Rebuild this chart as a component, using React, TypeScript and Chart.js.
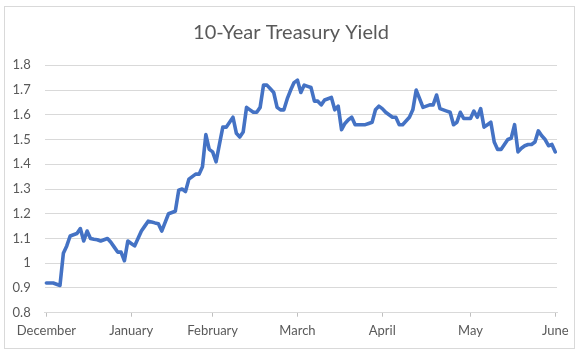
import { useEffect, useRef } from "react";
import { Chart, registerables } from "chart.js";

Chart.register(...registerables);

const chartTitle = "10-Year Treasury Yield";
const monthLabels = ["December", "January", "February", "March", "April", "May", "June"];
const monthPositions = [0, 25, 49, 74, 99, 125, 150];
const yields = [
  0.92, 0.92, 0.92, 0.915, 0.91, 1.04, 1.07, 1.11, 1.115, 1.12,
  1.14, 1.09, 1.13, 1.1, 1.097, 1.095, 1.09, 1.095, 1.1, 1.085,
  1.065, 1.045, 1.045, 1.01, 1.09, 1.08, 1.07, 1.1, 1.13, 1.15,
  1.17, 1.167, 1.163, 1.16, 1.13, 1.165, 1.2, 1.205, 1.21, 1.295,
  1.3, 1.29, 1.34, 1.35, 1.36, 1.36, 1.39, 1.52, 1.46, 1.45,
  1.41, 1.48, 1.55, 1.55, 1.57, 1.59, 1.525, 1.51, 1.53, 1.63,
  1.62, 1.61, 1.61, 1.63, 1.72, 1.72, 1.705, 1.69, 1.63, 1.62,
  1.62, 1.665, 1.7, 1.73, 1.74, 1.69, 1.72, 1.715, 1.71, 1.655,
  1.655, 1.64, 1.66, 1.665, 1.67, 1.62, 1.635, 1.54, 1.565, 1.58,
  1.59, 1.56, 1.56, 1.56, 1.56, 1.565, 1.57, 1.62, 1.635, 1.625,
  1.61, 1.6, 1.59, 1.59, 1.56, 1.56, 1.575, 1.59, 1.62, 1.7,
  1.665, 1.63, 1.635, 1.64, 1.64, 1.68, 1.625, 1.62, 1.615, 1.61,
  1.56, 1.57, 1.61, 1.585, 1.585, 1.585, 1.615, 1.59, 1.625, 1.55,
  1.56, 1.57, 1.49, 1.46, 1.46, 1.48, 1.5, 1.505, 1.56, 1.45,
  1.465, 1.475, 1.48, 1.48, 1.49, 1.535, 1.515, 1.5, 1.475, 1.48,
  1.45,
];
const yMin = 0.8;
const yMax = 1.8;
const yStep = 0.1;

const textColor = "#595959";
const fontFamily = "Lato, 'Open Sans', sans-serif";

export default function App() {
  const ref = useRef<HTMLCanvasElement>(null);

  useEffect(() => {
    const labels = yields.map((_, i) => {
      const k = monthPositions.indexOf(i);
      return k >= 0 ? monthLabels[k] : "";
    });
    const chart = new Chart(ref.current!, {
      type: "line",
      data: {
        labels,
        datasets: [
          {
            data: yields,
            borderColor: "#4472C4",
            borderWidth: 3.6,
            pointRadius: 0,
            tension: 0,
            fill: false,
            borderJoinStyle: "round",
            borderCapStyle: "round",
          },
        ],
      },
      options: {
        animation: false,
        responsive: false,
        maintainAspectRatio: false,
        layout: { padding: 0 },
        plugins: {
          legend: { display: false },
          tooltip: { enabled: false },
          title: {
            display: true,
            text: chartTitle,
            color: textColor,
            font: { family: fontFamily, size: 20, weight: "normal" as any },
            padding: { top: 21, bottom: 20.3 },
          },
        },
        scales: {
          x: {
            type: "category",
            offset: true,
            grid: {
              offset: false,
              drawOnChartArea: false,
              drawTicks: true,
              tickLength: 4,
              color: "#bfbfbf",
            },
            border: { display: true, color: "#d9d9d9", width: 1 },
            ticks: {
              autoSkip: false,
              maxRotation: 0,
              minRotation: 0,
              padding: 6,
              color: textColor,
              font: { family: fontFamily, size: 13 },
            },
            afterBuildTicks: (s: any) => {
              s.ticks = monthPositions.map((v) => ({ value: v }));
            },
            afterFit: (s: any) => {
              s.height = 42.3;
            },
          },
          y: {
            min: yMin,
            max: yMax,
            ticks: {
              stepSize: yStep,
              padding: 14,
              color: textColor,
              font: { family: fontFamily, size: 13 },
              callback: (v: any) => String(Number(Number(v).toFixed(1))),
            },
            grid: { color: "#d9d9d9", drawTicks: false, lineWidth: 1 },
            border: { display: false },
            afterFit: (s: any) => {
              s.width = 44.7;
            },
          },
          yRight: {
            position: "right",
            min: yMin,
            max: yMax,
            ticks: { display: false },
            grid: { display: false, drawOnChartArea: false, drawTicks: false },
            border: { display: false },
            afterFit: (s: any) => {
              s.width = 25;
            },
          },
        },
      },
    });
    return () => chart.destroy();
  }, []);

  return (
    <div style={{ position: "fixed", left: 0, top: 0, width: 582, height: 355, background: "#fff" }}>
      <div
        style={{
          position: "absolute",
          left: 4,
          top: 6,
          width: 571,
          height: 343,
          border: "1px solid #d9d9d9",
          boxSizing: "border-box",
        }}
      />
      <canvas ref={ref} width={582} height={355} style={{ position: "absolute", left: 0, top: 0 }} />
    </div>
  );
}
